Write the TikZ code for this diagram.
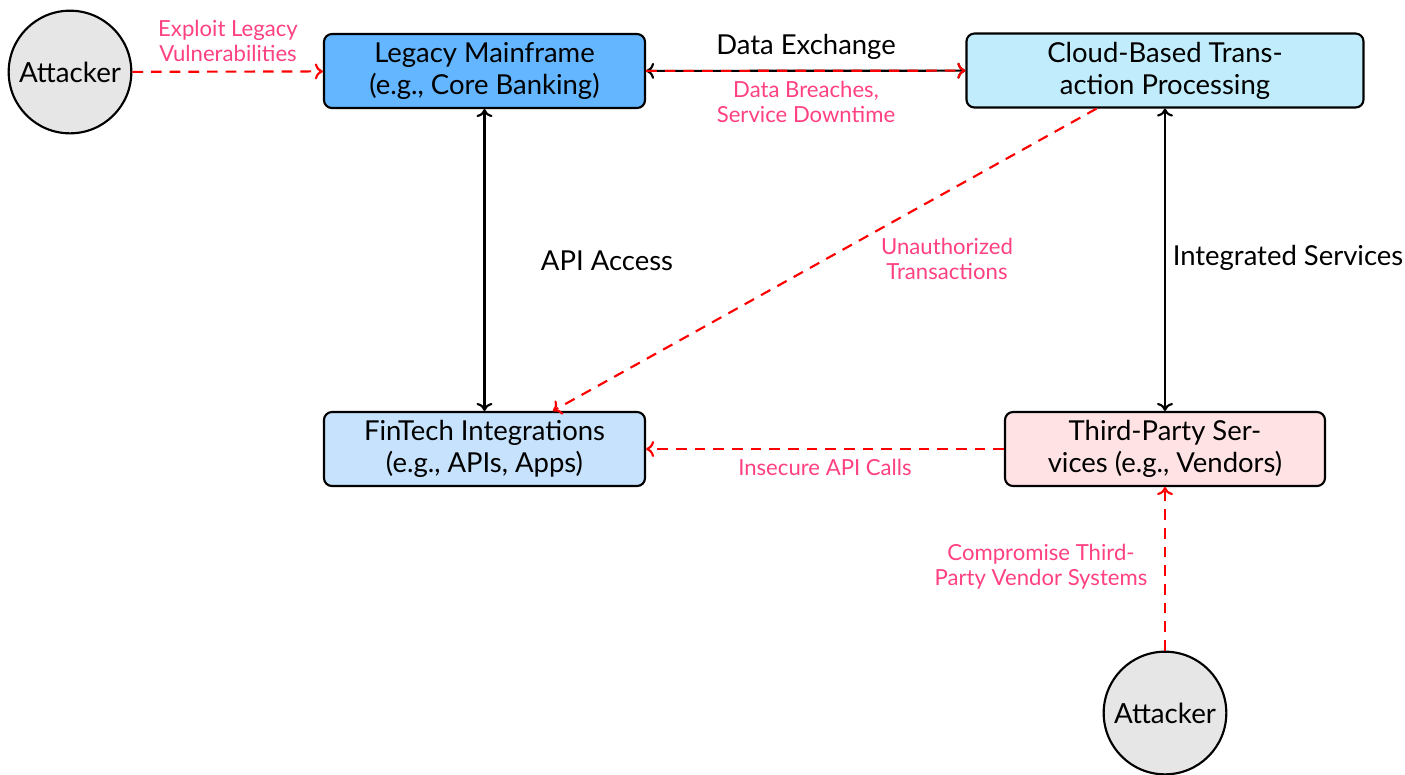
\documentclass[tikz,border=0pt]{standalone}
\usepackage{fontspec}
\setmainfont{Lato}
\usetikzlibrary{arrows.meta,positioning}
\definecolor{legacyfill}{RGB}{99,182,255}
\definecolor{cloudfill}{RGB}{192,236,252}
\definecolor{fintechfill}{RGB}{198,226,252}
\definecolor{thirdfill}{RGB}{255,226,228}
\definecolor{attackfill}{RGB}{230,230,230}
\definecolor{threattext}{RGB}{255,64,129}
\tikzset{
  sysbox/.style={draw=black, thick, rounded corners=3pt, align=center,
    minimum height=27.75pt, inner sep=2pt, font=\fontsize{10.3}{12}\selectfont},
  attacker/.style={draw=black, thick, circle, fill=attackfill, minimum size=46pt,
    inner sep=0pt, font=\fontsize{10.4}{12}\selectfont},
  link/.style={thick, black, {To[length=3pt,width=6pt]}-{To[length=3pt,width=6pt]}},
  threat/.style={thick, red, dashed, dash pattern=on 4pt off 3pt, -{To[length=3pt,width=6pt]}},
  threatlabel/.style={text=threattext, align=center, font=\fontsize{8.3}{9.2}\selectfont},
  flowlabel/.style={text=black, align=center, font=\fontsize{10.3}{12}\selectfont}
}
\begin{document}
\begin{tikzpicture}[x=0.375pt, y=-0.375pt]
\useasboundingbox (0,0) rectangle (1405,774);

% systems
\node[sysbox, fill=legacyfill, minimum width=120.4pt] (legacy) at (484.5,71)
  {Legacy Mainframe\\(e.g., Core Banking)};
\node[sysbox, fill=cloudfill, minimum width=148.9pt] (cloud) at (1165,70.5)
  {Cloud-Based Trans-\\action Processing};
\node[sysbox, fill=fintechfill, minimum width=120.4pt] (fintech) at (484.5,449)
  {FinTech Integrations\\(e.g., APIs, Apps)};
\node[sysbox, fill=thirdfill, minimum width=120pt] (third) at (1165,449)
  {Third-Party Ser-\\vices (e.g., Vendors)};

% attackers
\node[attacker] (att1) at (70,72) {Attacker};
\node[attacker] (att2) at (1165,713) {Attacker};

% legitimate flows
\draw[link] (legacy) -- (cloud);
\draw[link] (legacy) -- (fintech);
\draw[link] (cloud) -- (third);

% attack paths
\draw[threat] (att1) -- (legacy);
\draw[threat] (legacy) -- (cloud);
\draw[threat] (cloud) -- (fintech);
\draw[threat] (third) -- (fintech);
\draw[threat] (att2) -- (third);

% labels
\node[flowlabel] (lxchg) at (806,47) {Data Exchange};
\node[flowlabel] (lapi) at (607,261) {API Access};
\node[flowlabel] (lint) at (1288,258) {Integrated Services};
\node[threatlabel] (lexp) at (228,41) {Exploit Legacy\\Vulnerabilities};
\node[threatlabel] (lbreach) at (806,102) {Data Breaches,\\Service Downtime};
\node[threatlabel] (lunauth) at (947,259) {Unauthorized\\Transactions};
\node[threatlabel] (linsec) at (825,467) {Insecure API Calls};
\node[threatlabel] (lcomp) at (1041,567) {Compromise Third-\\Party Vendor Systems};
\end{tikzpicture}
\end{document}
